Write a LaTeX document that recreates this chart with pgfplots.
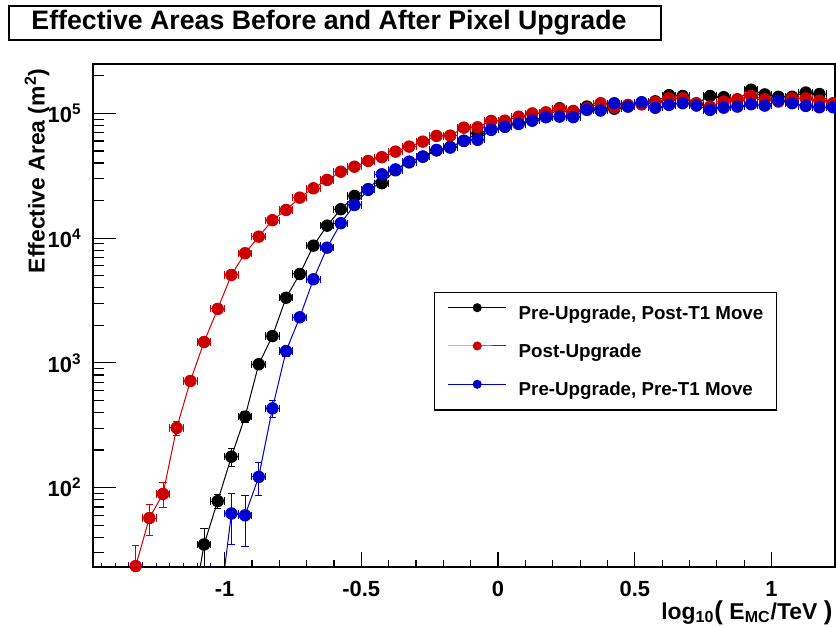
\documentclass[border=0pt]{standalone}
\usepackage{fontspec}
\setmainfont{Liberation Sans}
\usepackage{pgfplots}
\pgfplotsset{compat=1.18}
\definecolor{rred}{RGB}{204,0,0}
\definecolor{rblue}{RGB}{0,0,204}

\pgfplotsset{
  rootgraph/.style={
    mark=*, mark size=2.85bp, line width=0.5bp,
    error bars/.cd,
      x dir=both, x explicit, y dir=both, y explicit,
      error bar style={line width=0.5bp},
      error mark options={rotate=90, mark size=1.8bp, line width=0.5bp},
  },
}

\begin{document}
\begin{tikzpicture}
\begin{axis}[
  width=371bp, height=251.5bp, scale only axis,
  axis on top,
  xmin=-1.481, xmax=1.232,
  ymode=log, ymin=23.1, ymax=2.49e5,
  xtick={-1,-0.5,0,0.5,1},
  xticklabels={-1,-0.5,0,0.5,1},
  minor x tick num=4,
  ytick={100,1000,10000,100000},
  yticklabels={10\textsuperscript{2},10\textsuperscript{3},10\textsuperscript{4},10\textsuperscript{5}},
  minor ytick={30,40,50,60,70,80,90,200,300,400,500,600,700,800,900,
    2000,3000,4000,5000,6000,7000,8000,9000,
    20000,30000,40000,50000,60000,70000,80000,90000,200000},
  xtick pos=bottom, ytick pos=left, tick align=inside,
  xtick style={/pgfplots/major tick length=7.5bp, /pgfplots/minor tick length=3.75bp},
  ytick style={/pgfplots/major tick length=11.5bp, /pgfplots/minor tick length=5.7bp},
  tick style={line width=0.6bp, black},
  axis line style={line width=0.8bp},
  ticklabel style={font=\bfseries\fontsize{11}{13}\selectfont},
  xticklabel style={inner sep=0pt, yshift=-7bp},
  yticklabel style={inner sep=0pt, xshift=-5.5bp},
  label style={font=\bfseries\fontsize{11.5}{13}\selectfont},
  xlabel={log\textsubscript{10}{\fontsize{13}{13}\selectfont(} E\textsubscript{MC}/TeV {\fontsize{13}{13}\selectfont)}},
  xlabel style={at={(axis description cs:0.997,-0.1035)}, anchor=base east, inner sep=0pt},
  ylabel={Effective Area (m\textsuperscript{2})},
  ylabel style={at={(axis description cs:-0.0755,0.992)}, anchor=east, inner sep=0pt},
  legend style={at={(axis description cs:0.4596,0.5467)}, anchor=north west,
    draw=black, line width=0.7bp, fill=white,
    inner xsep=6.5bp, inner ysep=5.5bp, row sep=9.8bp, column sep=6bp,
    nodes={inner sep=0pt},
    font=\bfseries\fontsize{9.4}{11}\selectfont},
  legend cell align=left,
  legend image code/.code={
    \draw[mark repeat=2, mark phase=2, #1, mark size=2bp]
      plot coordinates {(0bp,3.2bp) (14.5bp,3.2bp) (29bp,3.2bp)};},
]

% Pre-Upgrade, Post-T1 Move (empty bins sit far below the frame)
\addplot[black, rootgraph] coordinates {
  (-1.125,8) +- (0.025,0)
  (-1.075,35) +- (0.025,12)
  (-1.025,78) +- (0.025,10)
  (-0.975,177) +- (0.025,30)
  (-0.925,371) +- (0.025,40)
  (-0.875,975) +- (0.025,70)
  (-0.825,1640) +- (0.025,91)
  (-0.775,3330) +- (0.025,129)
  (-0.725,5160) +- (0.025,161)
  (-0.675,8700) +- (0.025,209)
  (-0.625,12600) +- (0.025,251)
  (-0.575,17060) +- (0.025,292)
  (-0.525,21800) +- (0.025,330)
  (-0.475,24700) +- (0.025,351)
  (-0.425,27600) +- (0.025,371)
  (-0.375,35000) +- (0.025,418)
  (-0.325,40500) +- (0.025,450)
  (-0.275,45000) +- (0.025,474)
  (-0.225,50500) +- (0.025,502)
  (-0.175,53800) +- (0.025,518)
  (-0.125,60500) +- (0.025,550)
  (-0.075,69400) +- (0.025,589)
  (-0.025,74500) +- (0.025,610)
  (0.025,78500) +- (0.025,626)
  (0.075,83000) +- (0.025,644)
  (0.125,88000) +- (0.025,663)
  (0.175,93500) +- (0.025,683)
  (0.225,110000) +- (0.025,741)
  (0.275,95000) +- (0.025,689)
  (0.325,113500) +- (0.025,753)
  (0.375,108000) +- (0.025,735)
  (0.425,109000) +- (0.025,738)
  (0.475,114000) +- (0.025,755)
  (0.525,120000) +- (0.025,775)
  (0.575,125000) +- (0.025,790)
  (0.625,140000) +- (0.025,838)
  (0.675,138000) +- (0.025,838)
  (0.725,120000) +- (0.025,775)
  (0.775,138000) +- (0.025,830)
  (0.825,135000) +- (0.025,825)
  (0.875,128000) +- (0.025,800)
  (0.925,155000) +- (0.025,883)
  (0.975,142000) +- (0.025,845)
  (1.025,136000) +- (0.025,825)
  (1.075,136000) +- (0.025,825)
  (1.125,147000) +- (0.025,857)
  (1.175,143000) +- (0.025,845)
  (1.225,118000) +- (0.025,768)
};
\addlegendentry{Pre-Upgrade, Post-T1 Move}

% Post-Upgrade
\addplot[rred, rootgraph] coordinates {
  (-1.375,8) +- (0.025,0)
  (-1.325,23.5) +- (0.025,11)
  (-1.275,57) +- (0.025,16)
  (-1.225,89) +- (0.025,20)
  (-1.175,301) +- (0.025,39)
  (-1.125,716) +- (0.025,60)
  (-1.075,1470) +- (0.025,86)
  (-1.025,2710) +- (0.025,116)
  (-0.975,5070) +- (0.025,159)
  (-0.925,7570) +- (0.025,195)
  (-0.875,10280) +- (0.025,227)
  (-0.825,13930) +- (0.025,264)
  (-0.775,16830) +- (0.025,290)
  (-0.725,21130) +- (0.025,325)
  (-0.675,25100) +- (0.025,354)
  (-0.625,29300) +- (0.025,383)
  (-0.575,34100) +- (0.025,413)
  (-0.525,37400) +- (0.025,432)
  (-0.475,41600) +- (0.025,456)
  (-0.425,44600) +- (0.025,472)
  (-0.375,49400) +- (0.025,497)
  (-0.325,54200) +- (0.025,520)
  (-0.275,59400) +- (0.025,545)
  (-0.225,66000) +- (0.025,574)
  (-0.175,66400) +- (0.025,576)
  (-0.125,76900) +- (0.025,620)
  (-0.075,77400) +- (0.025,622)
  (-0.025,87100) +- (0.025,660)
  (0.025,87500) +- (0.025,661)
  (0.075,94200) +- (0.025,686)
  (0.125,100000) +- (0.025,707)
  (0.175,102000) +- (0.025,714)
  (0.225,108700) +- (0.025,737)
  (0.275,104700) +- (0.025,724)
  (0.325,110000) +- (0.025,742)
  (0.375,120700) +- (0.025,777)
  (0.425,112000) +- (0.025,748)
  (0.475,117000) +- (0.025,765)
  (0.525,118000) +- (0.025,768)
  (0.575,123000) +- (0.025,784)
  (0.625,132000) +- (0.025,812)
  (0.675,132000) +- (0.025,812)
  (0.725,120700) +- (0.025,777)
  (0.775,113400) +- (0.025,753)
  (0.825,124400) +- (0.025,789)
  (0.875,130000) +- (0.025,806)
  (0.925,138000) +- (0.025,831)
  (0.975,130000) +- (0.025,806)
  (1.025,124400) +- (0.025,789)
  (1.075,132000) +- (0.025,812)
  (1.125,132000) +- (0.025,812)
  (1.175,126500) +- (0.025,795)
  (1.225,120700) +- (0.025,777)
};
\addlegendentry{Post-Upgrade}

% Pre-Upgrade, Pre-T1 Move
\addplot[rblue, rootgraph] coordinates {
  (-1.025,8) +- (0.025,0)
  (-0.975,62) +- (0.025,27)
  (-0.925,60) +- (0.025,26)
  (-0.875,122) +- (0.025,36)
  (-0.825,432) +- (0.025,67)
  (-0.775,1245) +- (0.025,114)
  (-0.725,2320) +- (0.025,156)
  (-0.675,4680) +- (0.025,222)
  (-0.625,8390) +- (0.025,297)
  (-0.575,13180) +- (0.025,372)
  (-0.525,18450) +- (0.025,440)
  (-0.475,24400) +- (0.025,506)
  (-0.425,32500) +- (0.025,584)
  (-0.375,35600) +- (0.025,611)
  (-0.325,41100) +- (0.025,657)
  (-0.275,45100) +- (0.025,688)
  (-0.225,50900) +- (0.025,731)
  (-0.175,53200) +- (0.025,747)
  (-0.125,60100) +- (0.025,794)
  (-0.075,61400) +- (0.025,803)
  (-0.025,73800) +- (0.025,880)
  (0.025,78300) +- (0.025,907)
  (0.075,82400) +- (0.025,930)
  (0.125,87500) +- (0.025,958)
  (0.175,93300) +- (0.025,990)
  (0.225,94200) +- (0.025,994)
  (0.275,93300) +- (0.025,990)
  (0.325,106700) +- (0.025,1058)
  (0.375,105400) +- (0.025,1052)
  (0.425,120700) +- (0.025,1126)
  (0.475,113400) +- (0.025,1091)
  (0.525,123000) +- (0.025,1136)
  (0.575,111000) +- (0.025,1080)
  (0.625,117000) +- (0.025,1108)
  (0.675,120700) +- (0.025,1126)
  (0.725,115500) +- (0.025,1101)
  (0.775,106700) +- (0.025,1058)
  (0.825,111200) +- (0.025,1080)
  (0.875,113400) +- (0.025,1091)
  (0.925,118500) +- (0.025,1115)
  (0.975,115500) +- (0.025,1101)
  (1.025,126700) +- (0.025,1153)
  (1.075,120700) +- (0.025,1126)
  (1.125,114800) +- (0.025,1098)
  (1.175,112000) +- (0.025,1084)
  (1.225,112000) +- (0.025,1084)
};
\addlegendentry{Pre-Upgrade, Pre-T1 Move}

% empty bins of the blue graph: their line lies under the frame, the ends of their x error bars stick out
\addplot[rblue, forget plot, mark=none, line width=0.5bp,
  error bars/.cd, x dir=both, x explicit,
  error bar style={line width=0.5bp},
  error mark options={rotate=90, mark size=2.2bp, line width=0.5bp}] coordinates {
  (-1.475,23.1) +- (0.025,0) (-1.425,23.1) +- (0.025,0) (-1.375,23.1) +- (0.025,0)
  (-1.325,23.1) +- (0.025,0) (-1.275,23.1) +- (0.025,0) (-1.225,23.1) +- (0.025,0)
  (-1.175,23.1) +- (0.025,0) (-1.125,23.1) +- (0.025,0) (-1.075,23.1) +- (0.025,0)
  (-1.025,23.1) +- (0.025,0)
};
\end{axis}
\node[draw, line width=0.7bp, minimum width=326bp, minimum height=17bp, inner sep=0pt] at (121bp,272bp) {};
\node[font=\bfseries\fontsize{13.4}{15}\selectfont, inner sep=0pt] at (118bp,272bp) {Effective Areas Before and After Pixel Upgrade};
\pgfresetboundingbox
\path[use as bounding box] (-46.5bp,-30bp) rectangle (371.5bp,283.5bp);
\end{tikzpicture}
\end{document}
